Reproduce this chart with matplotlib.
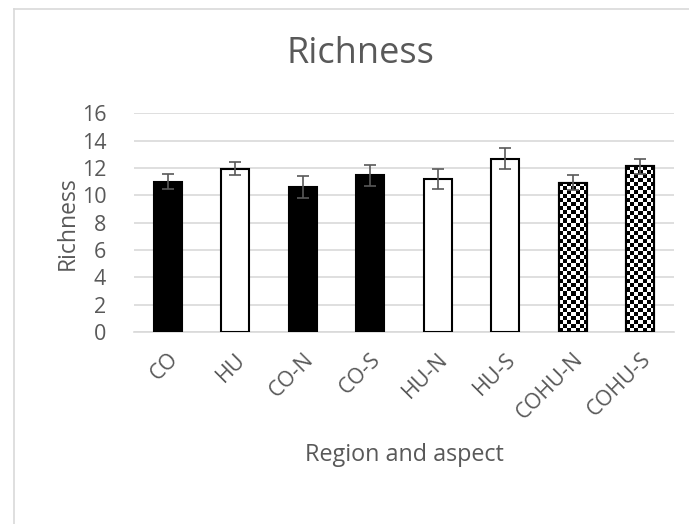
import numpy as np
import matplotlib
matplotlib.use('Agg')
import matplotlib.pyplot as plt
from matplotlib.patches import Rectangle
from matplotlib.lines import Line2D

categories = ['CO', 'HU', 'CO-N', 'CO-S', 'HU-N', 'HU-S', 'COHU-N', 'COHU-S']
richness = [11.0, 11.95, 10.63, 11.45, 11.18, 12.68, 10.92, 12.12]
errors = [0.55, 0.5, 0.8, 0.76, 0.73, 0.76, 0.55, 0.55]
fills = ['black', 'white', 'black', 'black', 'white', 'white', 'check', 'check']

plt.rcParams['font.family'] = ['Open Sans', 'DejaVu Sans']
grey = '#595959'

fig = plt.figure(figsize=(6.89, 5.24), dpi=100)
ax = fig.add_axes([0.1945, 0.366, 0.7837, 0.418])

x = np.arange(len(categories))
colors = ['white' if f == 'check' else f for f in fills]
bars = ax.bar(x, richness, width=0.415, color=colors, edgecolor='black',
              linewidth=1.5, zorder=3)
ax.errorbar(x, richness, yerr=errors, fmt='none', ecolor=grey,
            elinewidth=1.2, capsize=4.3, capthick=1.2, zorder=5)

ax.set_xlim(-0.5, len(categories) - 0.5)
ax.set_ylim(0, 16)
ax.set_yticks(range(0, 17, 2))
ax.yaxis.grid(True, color='#d9d9d9', linewidth=1.2, zorder=0)
ax.set_axisbelow(True)
for s in ['top', 'right', 'left']:
    ax.spines[s].set_visible(False)
ax.spines['bottom'].set_color('#d9d9d9')
ax.spines['bottom'].set_linewidth(1.2)
ax.tick_params(length=0, labelsize=15.5, labelcolor=grey)
ax.tick_params(axis='y', pad=20)
ax.tick_params(axis='x', pad=12)
ax.set_xticks(x)
ax.set_xticklabels(categories, rotation=45, ha='right', rotation_mode='anchor')

# checkerboard fill for the COHU bars
fig.canvas.draw()
for b, f in zip(bars, fills):
    if f != 'check':
        continue
    bb = b.get_window_extent()
    nx = max(1, int(round(bb.width / 4)))
    ny = max(1, int(round(bb.height / 4)))
    checker = (np.add.outer(np.arange(ny), np.arange(nx)) % 2).astype(float)
    im = ax.imshow(checker, cmap='gray', interpolation='nearest', aspect='auto',
                   extent=[b.get_x(), b.get_x() + b.get_width(), 0, b.get_height()],
                   zorder=3.5)
    im.set_clip_path(b)
    edge = Rectangle((b.get_x(), 0), b.get_width(), b.get_height(),
                     fill=False, edgecolor='black', linewidth=1.5, zorder=4)
    ax.add_patch(edge)
ax.set_xlim(-0.5, len(categories) - 0.5)
ax.set_ylim(0, 16)

ax.set_ylabel('Richness', fontsize=16.5, color=grey, labelpad=1)
ax.set_xlabel('Region and aspect', fontsize=16.8, color=grey, labelpad=14)
fig.text(0.523, 0.897, 'Richness', fontsize=26, color=grey, ha='center', va='center')

# chart area border
fig.add_artist(Line2D([13.5 / 689, 13.5 / 689], [0, 1 - 8.5 / 524],
                      transform=fig.transFigure, color='#d9d9d9', linewidth=1.2))
fig.add_artist(Line2D([13.5 / 689, 1], [1 - 8.5 / 524, 1 - 8.5 / 524],
                      transform=fig.transFigure, color='#d9d9d9', linewidth=1.2))

fig.savefig('out.png', dpi=100)
